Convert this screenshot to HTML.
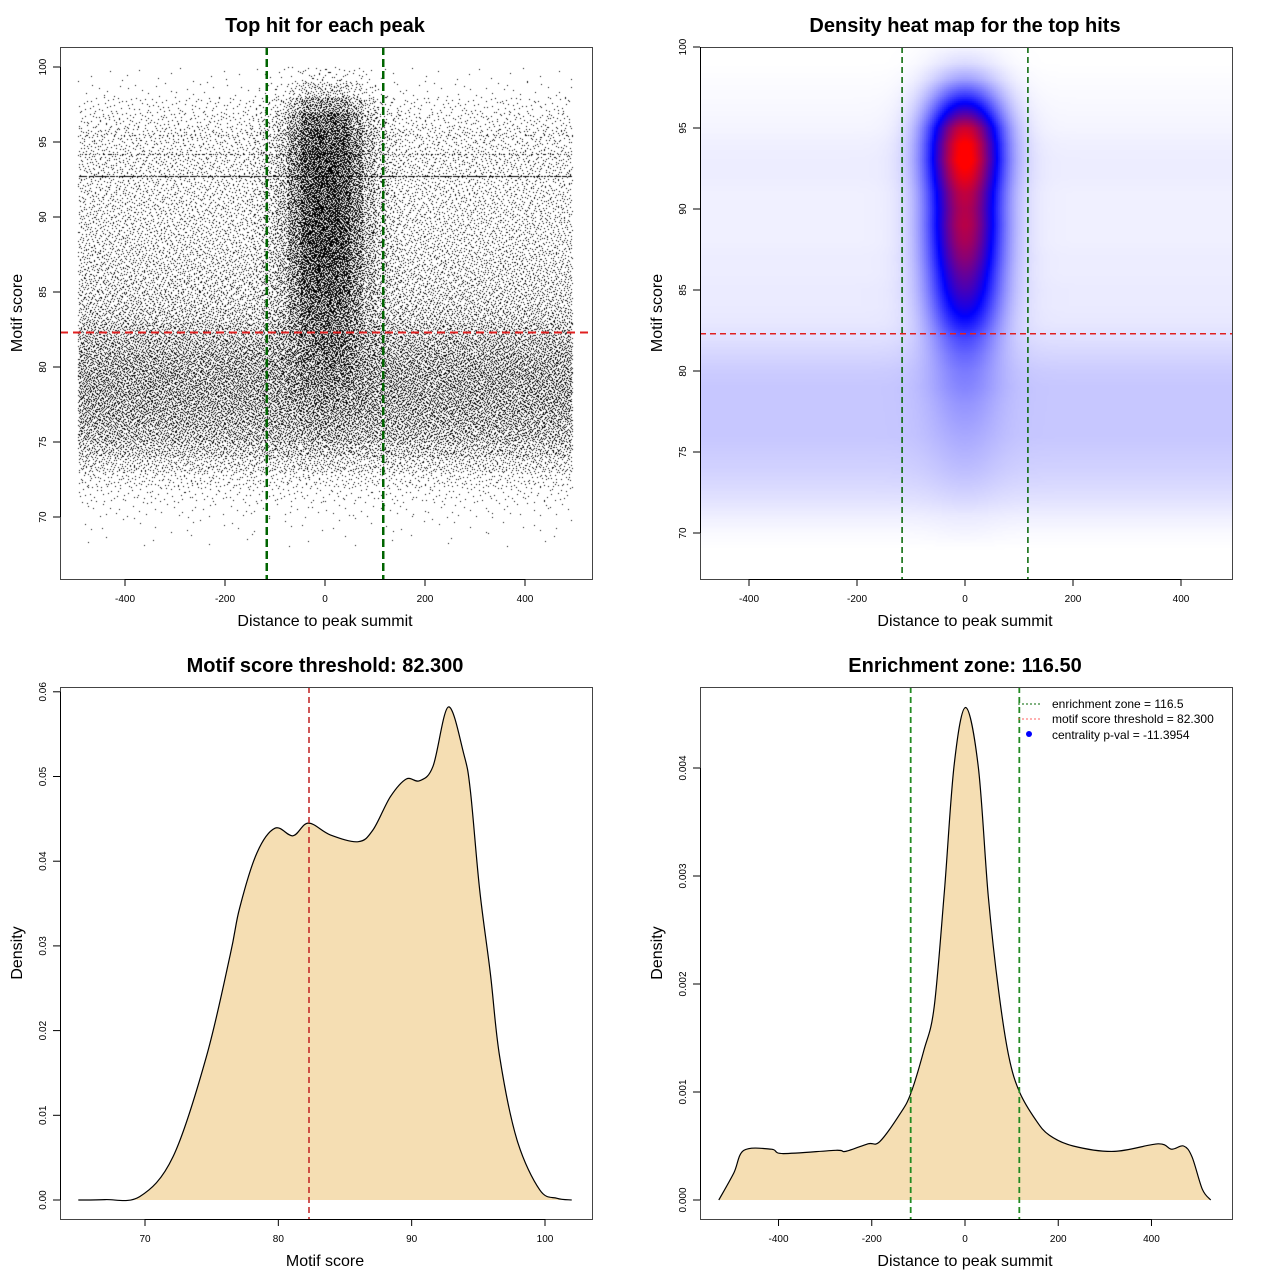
<!DOCTYPE html>
<html><head><meta charset="utf-8">
<style>
html,body{margin:0;padding:0;background:#fff;}
#root{position:relative;width:1280px;height:1280px;overflow:hidden;font-family:"Liberation Sans",sans-serif;}
canvas{position:absolute;}
svg{position:absolute;left:0;top:0;}
</style></head>
<body>
<div id="root">
<canvas id="scat" width="532" height="532" style="left:60px;top:47px"></canvas>
<canvas id="heat" width="532" height="532" style="left:700px;top:47px"></canvas>
<svg id="svg" width="1280" height="1280"></svg>
</div>
<script>
// ---- Panel 1: scatter, binned counts (y bins 67..99) ----
// background counts per 50-unit x bin
const scatBg = [0,1,2,5,12,25,50,80,105,120,130,135,135,125,110,90,70,60,55,50,46,42,40,38,36,34,36,30,30,22,14,4,2];
// central counts per 25-unit x bin (at peak weight)
const scatCen = [0,0,0,0,0,0,3,5,8,12,18,25,35,50,65,80,95,110,125,135,145,150,150,150,150,150,150,150,140,115,75,30,10];
// central x weights, 40 bins of 25 units from -500
const scatCenX = [0,0,0,0,0,0,0,0,0,0,0,0,0,0,0.03,0.08,0.2,0.5,0.9,1,1,0.9,0.55,0.25,0.1,0.04,0,0,0,0,0,0,0,0,0,0,0,0,0,0];
const streakY = [92.7, 94.2, 95.5];
const streakN = [26, 8, 3];
// ---- Panel 2: heatmap profiles by y (67..100) ----
const heatBg = [0,0,0,0.01,0.03,0.055,0.075,0.09,0.1,0.11,0.11,0.11,0.11,0.1,0.08,0.06,0.045,0.04,0.04,0.035,0.035,0.03,0.03,0.03,0.03,0.035,0.035,0.03,0.02,0.015,0.01,0.005,0,0];
const heatCen = [0,0,0,0.01,0.01,0.02,0.03,0.04,0.05,0.06,0.08,0.1,0.13,0.16,0.22,0.3,0.42,0.52,0.6,0.67,0.74,0.8,0.83,0.82,0.85,0.93,1.0,0.98,0.88,0.62,0.38,0.18,0.07,0.02];
const heatSigma = 48;
// ---- Panel 3: motif score density ----
const scoreX = [65,67,69.6,72.1,74.6,76.4,77.1,78.4,79.75,81.1,82.25,83.9,86.0,87.1,88.4,89.6,90.6,91.6,92.75,93.9,94.4,95.1,95.9,96.6,97.9,99.6,100.9,102];
const scoreD = [0,0.00005,0.0004,0.0051,0.0169,0.0290,0.0345,0.0410,0.0439,0.0430,0.0445,0.0431,0.0423,0.0437,0.0476,0.0497,0.0495,0.0512,0.0582,0.0527,0.0484,0.0366,0.0268,0.0169,0.0071,0.0012,0.0002,0];
// ---- Panel 4: distance density ----
const distX = [-528,-496,-474,-415,-390,-277,-256,-208,-183,-139,-116,-88,-66,-44,-23,1.5,28.5,50,72,94,117,152,181,232,320,414,443,469,487,509,527];
const distD = [0,0.00025,0.00046,0.00047,0.00043,0.00046,0.00045,0.00052,0.00054,0.0008,0.00099,0.00139,0.00179,0.00287,0.00404,0.00456,0.00401,0.00281,0.00194,0.00133,0.001,0.00074,0.0006,0.0005,0.00045,0.00052,0.00047,0.0005,0.0004,0.0001,0];
const threshold = 82.3, zone = 116.5;
const tick1X=[-400,-200,0,200,400], tick1Y=[70,75,80,85,90,95,100];
const tick3X=[70,80,90,100], tick3Y=[0,0.01,0.02,0.03,0.04,0.05,0.06];
const tick4Y=[0,0.001,0.002,0.003,0.004];

// axis functions
const p1x=v=>325+0.5*v, p1y=v=>67+(100-v)*15;
const p2x=v=>965+0.54*v, p2y=v=>47+(100-v)*16.2;
const p3x=v=>145+(v-70)*13.333, p3y=v=>1200-v*8470;
const p4x=v=>965+v*0.4662, p4y=v=>1200-v*108000;

const NS="http://www.w3.org/2000/svg", svg=document.getElementById('svg');
function mk(tag,attrs,name,parent){const e=document.createElementNS(NS,tag);for(const k in attrs)e.setAttribute(k,attrs[k]);


(parent||svg).appendChild(e);return e;}
function txt(s,x,y,size,name,opt){opt=opt||{};const a={x:x,y:y,'font-size':size,'text-anchor':'middle',fill:'#000','font-family':'Liberation Sans, sans-serif'};
if(opt.bold)a['font-weight']='bold';if(opt.rot)a.transform='rotate(-90 '+x+' '+y+')';if(opt.anchor)a['text-anchor']=opt.anchor;
const t=mk('text',a,name);t.textContent=s;return t;}

// scatter
(function(){const c=document.getElementById('scat').getContext('2d');c.fillStyle='#000';
function hal(i,b){let f=1,r=0;while(i>0){f/=b;r+=f*(i%b);i=Math.floor(i/b);}return r;}
let k=1;
function dot(xv,yv){if(xv<-494||xv>494)return;c.fillRect(Math.round(p1x(xv)-60),Math.round(p1y(yv)-47),1,1);}
for(let j=0;j<scatBg.length;j++){
 for(let i=0;i<20;i++){const n=scatBg[j];const x0=-500+i*50;
  for(let m=0;m<n;m++){dot(x0+hal(k,2)*50,67+j+hal(k,3));k++;}}
 for(let i=0;i<40;i++){const n=Math.round(scatCen[j]*scatCenX[i]);const x0=-500+i*25;
  for(let m=0;m<n;m++){dot(x0+hal(k,2)*25,67+j+hal(k,3));k++;}}}
for(let s=0;s<streakY.length;s++){for(let i=0;i<20;i++){for(let m=0;m<streakN[s];m++){
 dot(-500+i*50+hal(k,2)*50,streakY[s]);k++;}}}
})();

// heatmap
(function(){const c=document.getElementById('heat').getContext('2d');
function interp(arr,y){const f=y-67;if(f<=0)return arr[0];if(f>=arr.length-1)return arr[arr.length-1];const i=Math.floor(f),t=f-i;return arr[i]*(1-t)+arr[i+1]*t;}
for(let py=0;py<532;py+=2){const yv=100-(py+1)/16.2;
 for(let px=0;px<532;px+=2){const xv=(px+1+700-965)/0.54;
  if(Math.abs(xv)>494)continue;
  let v=interp(heatBg,yv)+interp(heatCen,yv)*Math.exp(-0.5*(xv/heatSigma)*(xv/heatSigma));
  v=Math.min(1,Math.max(0,v));let r,g,b;
  if(v<0.5){r=g=Math.round(255*(1-2*v));b=255;}else{const t=(v-0.5)*2;r=Math.round(255*t);g=0;b=Math.round(255*(1-t));}
  c.fillStyle='rgb('+r+','+g+','+b+')';c.fillRect(px,py,2,2);}}
})();

function smoothPath(xs,ys){let d='M'+xs[0].toFixed(1)+','+ys[0].toFixed(1);
for(let i=0;i<xs.length-1;i++){const x0=xs[Math.max(0,i-1)],y0=ys[Math.max(0,i-1)],x1=xs[i],y1=ys[i],x2=xs[i+1],y2=ys[i+1],x3=xs[Math.min(xs.length-1,i+2)],y3=ys[Math.min(xs.length-1,i+2)];
d+=' C'+(x1+(x2-x0)/6).toFixed(1)+','+(y1+(y2-y0)/6).toFixed(1)+' '+(x2-(x3-x1)/6).toFixed(1)+','+(y2-(y3-y1)/6).toFixed(1)+' '+x2.toFixed(1)+','+y2.toFixed(1);}
return d;}

{const xs=scoreX.map(p3x),ys=scoreD.map(p3y);const d=smoothPath(xs,ys);
mk('path',{d:d+' Z',fill:'#F5DEB3',stroke:'none'},'score-density-fill');
mk('path',{d:d,fill:'none',stroke:'#000','stroke-width':1.2},'score-density-line');}
{const xs=distX.map(p4x),ys=distD.map(p4y);const d=smoothPath(xs,ys);
mk('path',{d:d+' Z',fill:'#F5DEB3',stroke:'none'},'distance-density-fill');
mk('path',{d:d,fill:'none',stroke:'#000','stroke-width':1.2},'distance-density-line');}

// reference lines
mk('line',{x1:60,x2:592,y1:p1y(threshold),y2:p1y(threshold),stroke:'#e02020','stroke-width':2,'stroke-dasharray':'8,5'},'threshold-line-p1');
[-zone,zone].forEach(z=>mk('line',{x1:p1x(z),x2:p1x(z),y1:47,y2:579,stroke:'#006400','stroke-width':2.5,'stroke-dasharray':'8,4'},'zone-line-p1'));
mk('line',{x1:700,x2:1232,y1:p2y(threshold),y2:p2y(threshold),stroke:'#e02020','stroke-width':1.5,'stroke-dasharray':'6,4'},'threshold-line-p2');
[-zone,zone].forEach(z=>mk('line',{x1:p2x(z),x2:p2x(z),y1:47,y2:579,stroke:'#006400','stroke-width':1.5,'stroke-dasharray':'6,4'},'zone-line-p2'));
mk('line',{x1:p3x(threshold),x2:p3x(threshold),y1:687,y2:1219,stroke:'#c02020','stroke-width':1.5,'stroke-dasharray':'6,4'},'threshold-line-p3');
[-zone,zone].forEach(z=>mk('line',{x1:p4x(z),x2:p4x(z),y1:687,y2:1219,stroke:'#228B22','stroke-width':1.8,'stroke-dasharray':'6,4'},'zone-line-p4'));

// frames, axes
function frame(x,y,name){mk('rect',{x:x+0.5,y:y+0.5,width:532,height:532,fill:'none',stroke:'#444','stroke-width':1},name);}
frame(60,47,'plot-frame-p1');frame(700,47,'plot-frame-p2');frame(60,687,'plot-frame-p3');frame(700,687,'plot-frame-p4');
function xaxis(ticks,f,ybot,labels,name){const a=f(ticks[0]),b=f(ticks[ticks.length-1]);
mk('line',{x1:a,x2:b,y1:ybot+0.5,y2:ybot+0.5,stroke:'#000'},name+'-line');
ticks.forEach((t,i)=>{mk('line',{x1:f(t),x2:f(t),y1:ybot,y2:ybot+7,stroke:'#000'},name+'-tick');txt(labels[i],f(t),ybot+23,10,name+'-label');});}
function yaxis(ticks,f,xl,labels,name){const a=f(ticks[0]),b=f(ticks[ticks.length-1]);
mk('line',{x1:xl+0.5,x2:xl+0.5,y1:a,y2:b,stroke:'#000'},name+'-line');
ticks.forEach((t,i)=>{mk('line',{x1:xl-7,x2:xl,y1:f(t),y2:f(t),stroke:'#000'},name+'-tick');txt(labels[i],xl-14,f(t),10,name+'-label',{rot:true});});}
xaxis(tick1X,p1x,579,tick1X.map(String),'x-axis-p1');yaxis(tick1Y,p1y,60,tick1Y.map(String),'y-axis-p1');
xaxis(tick1X,p2x,579,tick1X.map(String),'x-axis-p2');yaxis(tick1Y,p2y,700,tick1Y.map(String),'y-axis-p2');
xaxis(tick3X,p3x,1219,tick3X.map(String),'x-axis-p3');yaxis(tick3Y,p3y,60,tick3Y.map(v=>v.toFixed(2)),'y-axis-p3');
xaxis(tick1X,p4x,1219,tick1X.map(String),'x-axis-p4');yaxis(tick4Y,p4y,700,tick4Y.map(v=>v.toFixed(3)),'y-axis-p4');

// titles and labels
txt('Top hit for each peak',325,32,20,'title-p1',{bold:true});
txt('Density heat map for the top hits',965,32,20,'title-p2',{bold:true});
txt('Motif score threshold: 82.300',325,672,20,'title-p3',{bold:true});
txt('Enrichment zone: 116.50',965,672,20,'title-p4',{bold:true});
txt('Distance to peak summit',325,626,16,'x-axis-title-p1');
txt('Distance to peak summit',965,626,16,'x-axis-title-p2');
txt('Motif score',325,1266,16,'x-axis-title-p3');
txt('Distance to peak summit',965,1266,16,'x-axis-title-p4');
txt('Motif score',22,313,16,'y-axis-title-p1',{rot:true});
txt('Motif score',662,313,16,'y-axis-title-p2',{rot:true});
txt('Density',22,953,16,'y-axis-title-p3',{rot:true});
txt('Density',662,953,16,'y-axis-title-p4',{rot:true});

// legend
mk('line',{x1:1018,x2:1042,y1:704,y2:704,stroke:'#006400','stroke-width':1,'stroke-dasharray':'2,2'},'legend-zone-symbol');
mk('line',{x1:1018,x2:1042,y1:719,y2:719,stroke:'#ff6060','stroke-width':1,'stroke-dasharray':'2,2'},'legend-threshold-symbol');
mk('circle',{cx:1029,cy:734,r:3,fill:'#0000ff'},'legend-pval-symbol');
txt('enrichment zone = 116.5',1052,708,12,'legend-zone-label',{anchor:'start'});
txt('motif score threshold = 82.300',1052,723,12,'legend-threshold-label',{anchor:'start'});
txt('centrality p-val = -11.3954',1052,739,12,'legend-pval-label',{anchor:'start'});
</script>
</body></html>
